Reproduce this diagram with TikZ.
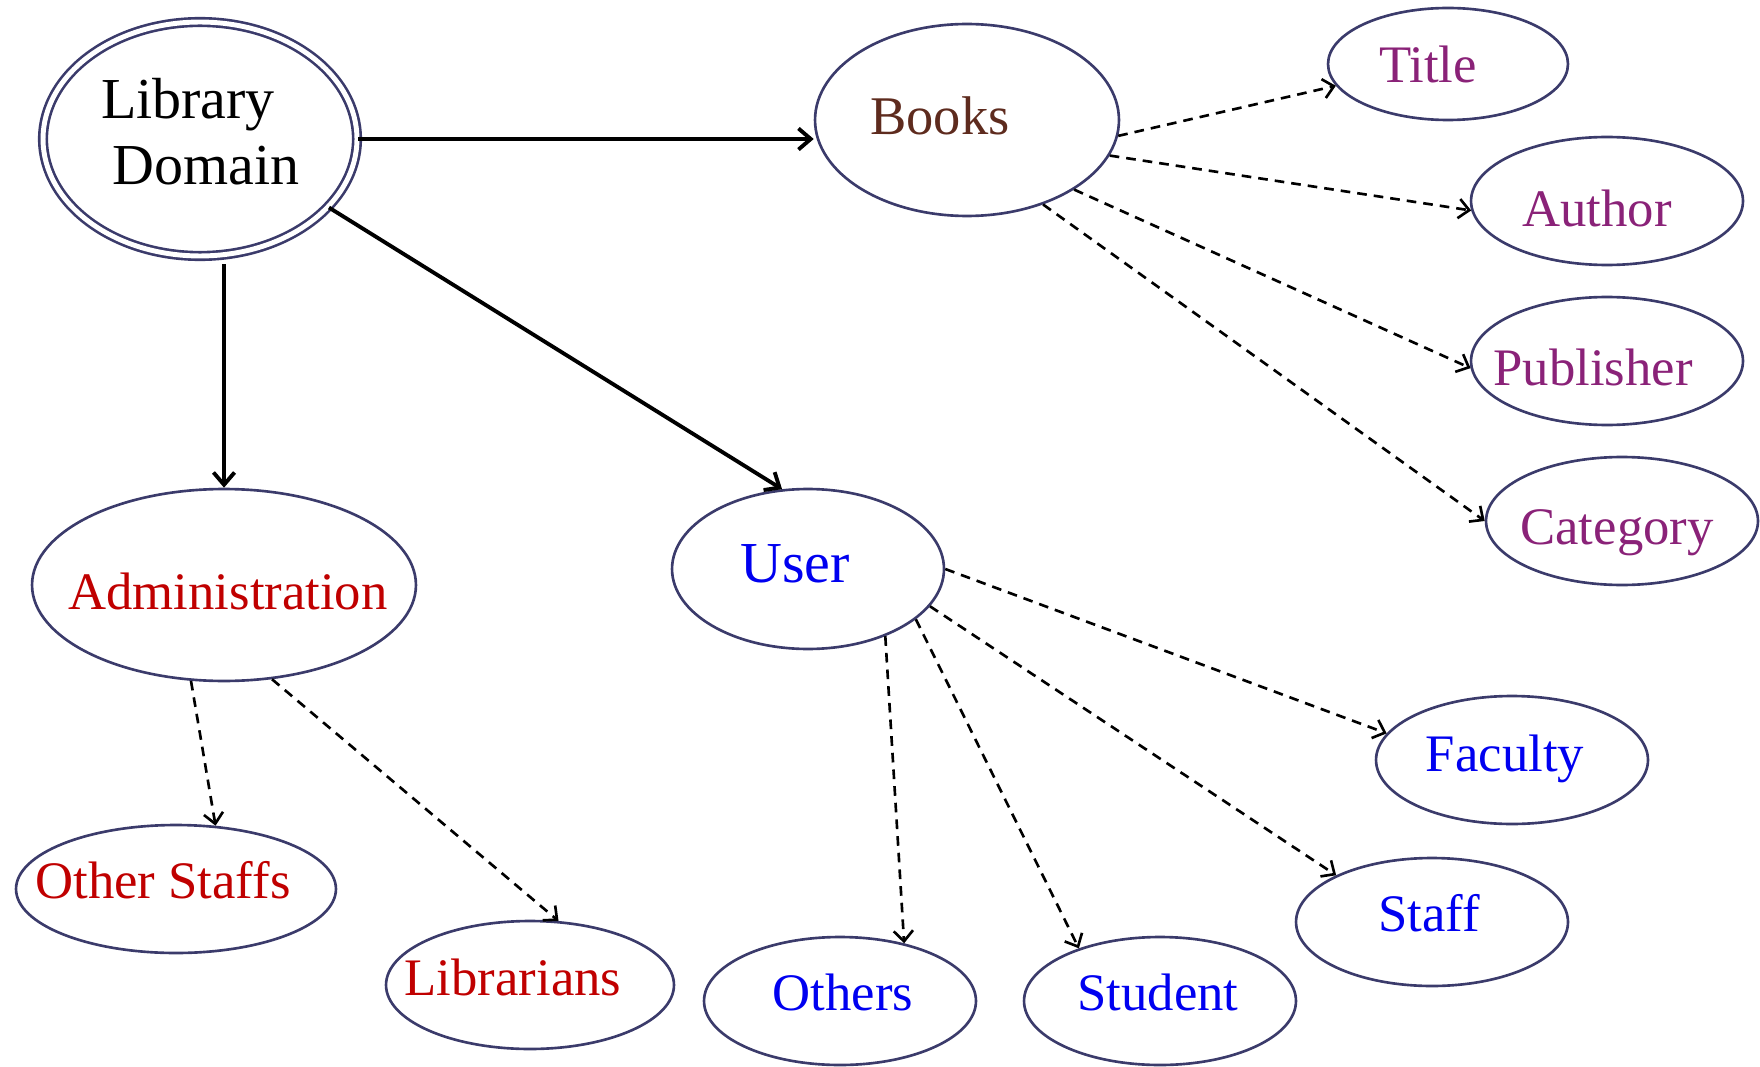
\documentclass[tikz,border=0pt]{standalone}
\usepackage{fontspec}
\setmainfont{Liberation Serif}
\usepackage{tikz}
\usetikzlibrary{arrows.meta}
\usetikzlibrary{shapes.geometric}
\definecolor{rim}{HTML}{3B3B6B}
\definecolor{adminred}{HTML}{C00000}
\definecolor{userblue}{HTML}{0000F0}
\definecolor{bookpurple}{HTML}{8A2278}
\definecolor{bookbrown}{HTML}{5E2B1E}

\begin{document}
\begin{tikzpicture}[
    x=0.02cm, y=-0.02cm,
    entity/.style={ellipse, draw=rim, line width=1.5pt, inner sep=0pt, minimum width=5.44cm, minimum height=2.56cm},
    entity text/.style={font=\fontsize{30}{34}\selectfont, inner sep=0pt, text height=0.68em, text depth=0pt, yshift=-0.24cm},
    main link/.style={line width=2.2pt, -{Straight Barb[length=7pt, width=12pt]}},
    part link/.style={line width=1.5pt, dash pattern=on 5.5pt off 4pt, -{Straight Barb[length=6pt, width=11pt]}}
    ]
    \useasboundingbox (0,0) rectangle (1760,1067);

    % root
    \node[entity, double=white, double distance=2.8pt, minimum width=6.28cm, minimum height=4.68cm] (domain) at (200,139) {};
    \node[entity text, font=\fontsize{33}{36}\selectfont] (tLibrary) at (188,101) {Library};
    \node[entity text, font=\fontsize{33}{36}\selectfont] (tDomain) at (206,167) {Domain};

    % books and its attributes
    \node[entity, minimum width=6.08cm, minimum height=3.84cm] (books) at (967,120) {};
    \node[entity, minimum width=4.8cm, minimum height=2.24cm] (title) at (1448,64) {};
    \node[entity] (author) at (1607,201) {};
    \node[entity] (publisher) at (1607,361) {};
    \node[entity] (category) at (1622,521) {};
    \node[entity text, bookbrown, font=\fontsize{31}{34}\selectfont] (tBooks) at (940,117) {Books};
    \node[entity text, bookpurple] (tTitle) at (1428,65) {Title};
    \node[entity text, bookpurple] (tAuthor) at (1597,209) {Author};
    \node[entity text, bookpurple] (tPublisher) at (1593,368) {Publisher};
    \node[entity text, bookpurple] (tCategory) at (1617,527) {Category};

    % administration
    \node[entity, minimum width=7.68cm, minimum height=3.84cm] (admin) at (224,585) {};
    \node[entity, minimum width=6.4cm] (otherstaffs) at (176,889) {};
    \node[entity, minimum width=5.76cm] (librarians) at (530,985) {};
    \node[entity text, adminred] (tAdmin) at (228,592) {Administration};
    \node[entity text, adminred] (tOtherStaffs) at (163,881) {Other Staffs};
    \node[entity text, adminred] (tLibrarians) at (513,978) {Librarians};

    % users
    \node[entity, minimum height=3.2cm] (user) at (808,569) {};
    \node[entity] (faculty) at (1512,760) {};
    \node[entity] (staff) at (1432,922) {};
    \node[entity] (student) at (1160,1001) {};
    \node[entity] (others) at (840,1001) {};
    \node[entity text, userblue, font=\fontsize{33}{36}\selectfont] (tUser) at (795,565) {User};
    \node[entity text, userblue] (tFaculty) at (1505,754) {Faculty};
    \node[entity text, userblue] (tStaff) at (1429,914) {Staff};
    \node[entity text, userblue] (tStudent) at (1158,993) {Student};
    \node[entity text, userblue] (tOthers) at (843,993) {Others};

    % main links
    \draw[main link] (domain.east) -- (domain.east -| books.west);
    \draw[main link] ([yshift=-0.14cm]domain.south -| admin.north) -- (admin.north);
    \draw[main link] (domain.-28) -- (user.108);

    % attribute links
    \draw[part link] (books.-6) -- (title.191);
    \draw[part link] (books.-14) -- (author.184);
    \draw[part link] (books.-33) -- (publisher.183);
    \draw[part link] (books.-48) -- (category.180);
    \draw[part link] (admin.-109) -- (otherstaffs.58);
    \draw[part link] (admin.-63) -- (librarians.66);
    \draw[part link] (user.0) -- (faculty.168);
    \draw[part link] (user.-17) -- (staff.154);
    \draw[part link] (user.-25) -- (student.147);
    \draw[part link] (user.-41) -- (others.42);
\end{tikzpicture}
\end{document}
